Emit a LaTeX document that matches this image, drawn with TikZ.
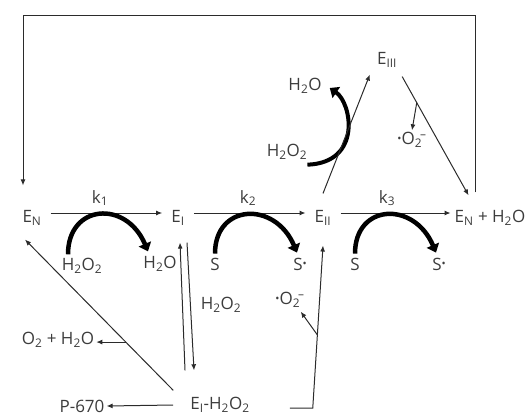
\documentclass[tikz,border=0pt]{standalone}
\usepackage{fontspec}
\setmainfont{Open Sans}
\usetikzlibrary{arrows.meta,positioning}
\definecolor{Ink}{HTML}{2B2B2B}
\definecolor{Label}{HTML}{3C3C3C}
\newcommand{\rad}{\raisebox{0.3ex}{\fontsize{11}{11}\selectfont\textbullet}}
\newcommand{\superox}{\rad O\textsubscript{2}\kern-0.12em\textsuperscript{--}}

\begin{document}
\begin{tikzpicture}[x=1pt,y=-1pt,
  lbl/.style={text=Label,inner sep=2pt,font=\fontsize{17}{19}\selectfont},
  arr/.style={draw=Ink,line width=1pt,-{Latex[length=6pt,width=5pt]}},
  row/.style={arr,shorten <=7pt,shorten >=7pt},
  swoop/.style={draw=black,line width=4.5pt,-{Triangle[length=8pt,width=13pt]}}]
  \useasboundingbox (0,0) rectangle (532,415);
  % enzyme states along the main row
  \node[lbl] (en) at (32,218) {E\textsubscript{N}};
  \node[lbl] (ei) at (178,218) {E\textsubscript{I}};
  \node[lbl] (eii) at (323,218) {E\textsubscript{II}};
  \node[lbl] (enw) at (490,218) {E\textsubscript{N} + H\textsubscript{2}O};
  \node[lbl] (eiii) at (387,60) {E\textsubscript{III}};
  \node[lbl] (eih2o2) at (220,405) {E\textsubscript{I}-H\textsubscript{2}O\textsubscript{2}};
  \node[lbl] (p670) at (82,406) {P-670};
  % rate constants
  \node[lbl] (k1) at (100,198) {k\textsubscript{1}};
  \node[lbl] (k2) at (248,198) {k\textsubscript{2}};
  \node[lbl] (k3) at (387,198) {k\textsubscript{3}};
  % substrates and products
  \node[lbl] (h2o2a) at (82,266) {H\textsubscript{2}O\textsubscript{2}};
  \node[lbl] (h2oa) at (160,264) {H\textsubscript{2}O};
  \node[lbl] (sa) at (215,264) {S};
  \node[lbl] (sra) at (300,264) {S\rad};
  \node[lbl] (sb) at (355,264) {S};
  \node[lbl] (srb) at (439,264) {S\rad};
  \node[lbl] (h2o2up) at (287,152) {H\textsubscript{2}O\textsubscript{2}};
  \node[lbl] (h2oup) at (305,86) {H\textsubscript{2}O};
  \node[lbl] (o2up) at (412,140) {\superox};
  \node[lbl] (h2o2mid) at (221,305) {H\textsubscript{2}O\textsubscript{2}};
  \node[lbl] (o2low) at (290,300) {\superox};
  \node[lbl] (o2h2o) at (58,340) {O\textsubscript{2} + H\textsubscript{2}O};

  % main row
  \draw[row] ([yshift=5pt]en.east) -- ([yshift=5pt]ei.west);
  \draw[row] ([yshift=5pt]ei.east) -- ([yshift=5pt]eii.west);
  \draw[row,shorten >=2pt] ([yshift=5pt]eii.east) -- ([yshift=5pt]enw.west);
  % co-substrate swoops
  \draw[swoop] ([xshift=-14pt,yshift=2pt]h2o2a.north) .. controls +(0,-50) and +(-22,-52) .. ([xshift=-12pt,yshift=3pt]h2oa.north);
  \draw[swoop] ([yshift=2pt]sa.north) .. controls +(0,-50) and +(-22,-52) .. ([xshift=-3pt,yshift=3pt]sra.north);
  \draw[swoop] ([yshift=2pt]sb.north) .. controls +(0,-50) and +(-22,-52) .. ([xshift=-3pt,yshift=3pt]srb.north);
  \draw[swoop,line width=4pt] ([xshift=-2pt,yshift=-3pt]h2o2up.south east) .. controls +(55,-2) and +(22,15) .. ([xshift=6pt,yshift=-2pt]h2oup.east);

  % side route through E_III
  \draw[arr] ([yshift=15pt]eii.north) -- ([xshift=-5pt,yshift=-5pt]eiii.south west);
  \draw[arr] ([xshift=3pt,yshift=-7pt]eiii.south east) -- coordinate[pos=0.22] (br1) ([xshift=16pt,yshift=13pt]enw.north west);
  \draw[arr] (br1) -- (o2up.north);
  % return loop
  \draw[arr] ([xshift=-15pt,yshift=16pt]enw.north) -- ++(0,-177) -| ([xshift=-9pt,yshift=23pt]en.north);

  % compound I with peroxide
  \draw[arr] ([xshift=-35pt,yshift=25pt]eih2o2.north) -- ([xshift=2pt,yshift=-15pt]ei.south);
  \draw[arr] ([xshift=9pt,yshift=-15pt]ei.south) -- ([xshift=-26pt,yshift=25pt]eih2o2.north);
  \draw[arr] ([xshift=-15pt,yshift=5pt]eih2o2.north west) -- coordinate[pos=0.32] (br2) ([xshift=-7pt,yshift=-12pt]en.south);
  \draw[arr] (br2) -- (br2 -| o2h2o.east);
  \draw[arr] ([xshift=-15pt]eih2o2.west) -- (p670.east);
  \draw[arr] ([xshift=38pt,yshift=-3pt]eih2o2.east) -- ++(23,0) -- coordinate[pos=0.45] (br3) ([yshift=-18pt]eii.south);
  \draw[arr] (br3) -- ([xshift=-6pt,yshift=-2pt]o2low.south east);
\end{tikzpicture}
\end{document}
